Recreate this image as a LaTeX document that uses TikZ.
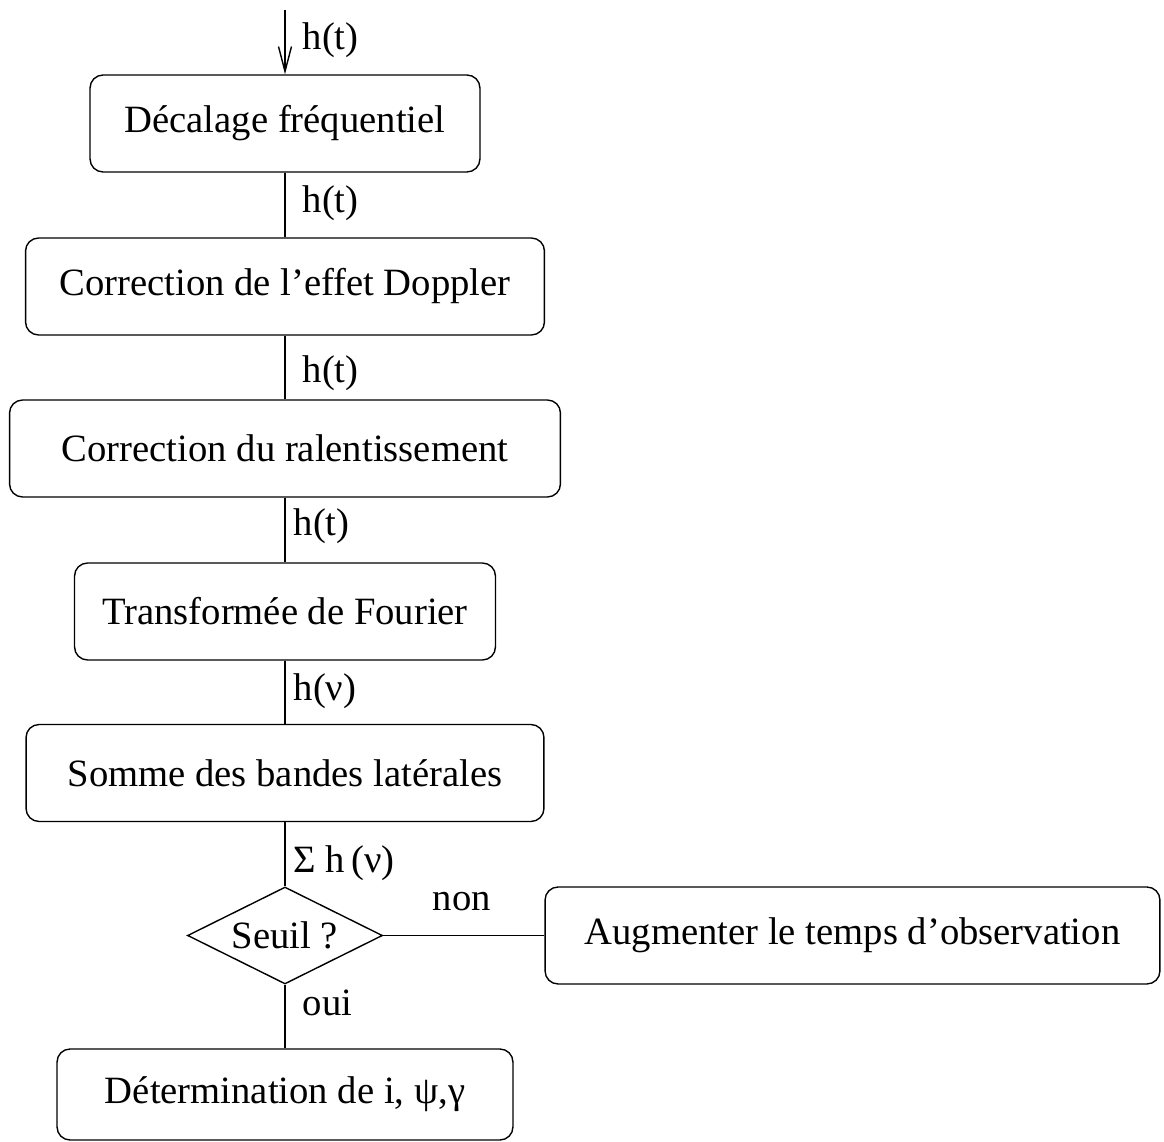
\documentclass[tikz,border=0pt]{standalone}
\usepackage{fontspec}
\setmainfont{Liberation Serif}
\usepackage{tikz}
\usetikzlibrary{arrows.meta}
\usetikzlibrary{shapes.geometric}

\begin{document}
\begin{tikzpicture}[x=0.02cm,y=-0.02cm,line width=0.8pt,
		>={Straight Barb[length=0.5cm,width=0.26cm]},
		box/.style={draw,rounded corners=0.26cm,minimum height=1.94cm,inner sep=0pt,
			font=\fontsize{22}{26}\selectfont},
		test/.style={draw,diamond,aspect=2,inner sep=0pt,minimum width=3.9cm,minimum height=1.94cm,
			font=\fontsize{22}{26}\selectfont},
		lbl/.style={anchor=base west,inner sep=0pt,font=\fontsize{22}{26}\selectfont}]
		
		\useasboundingbox (0,0) rectangle (1164,1142);
		
		% Processing chain
		\node[box,minimum width=7.8cm] (dec) at (285,123.5) {Décalage fréquentiel};
		\node[box,minimum width=10.38cm] (dop) at (285,286.5) {Correction de l’effet Doppler};
		\node[box,minimum width=11.02cm] (ral) at (285,448.5) {Correction du ralentissement};
		\node[box,minimum width=8.42cm] (fou) at (285,611.5) {Transformée de Fourier};
		\node[box,minimum width=10.36cm] (som) at (285,773) {Somme des bandes latérales};
		
		% Decision
		\node[test] (seuil) at (285,935.5) {Seuil ?};
		\node[box,minimum width=12.3cm] (aug) at (852.5,935.5) {Augmenter le temps d’observation};
		\node[box,minimum width=9.12cm,minimum height=1.82cm] (det) at (285,1094.5) {Détermination de i, ψ,γ};
		
		% Links
		\coordinate (in) at (285,10);
		\draw[->] (in) -- (dec.north);
		\draw (dec.south) -- (dop.north);
		\draw (dop.south) -- (ral.north);
		\draw (ral.south) -- (fou.north);
		\draw (fou.south) -- (som.north);
		\draw (som.south) -- (seuil.north);
		\draw (seuil.east) -- (aug.west);
		\draw (seuil.south) -- (det.north);
		
		% Signal labels
		\node[lbl] (l1) at (302,50) {h(t)};
		\node[lbl] (l2) at (302,213) {h(t)};
		\node[lbl] (l3) at (302,383) {h(t)};
		\node[lbl] (l4) at (293,535) {h(t)};
		\node[lbl] (l5) at (293,700) {h(ν)};
		\node[lbl] (l6) at (293,872) {Σ h\,(ν)};
		\node[lbl] (non) at (432,910) {non};
		\node[lbl] (oui) at (302,1015) {oui};
		
	\end{tikzpicture}
\end{document}
